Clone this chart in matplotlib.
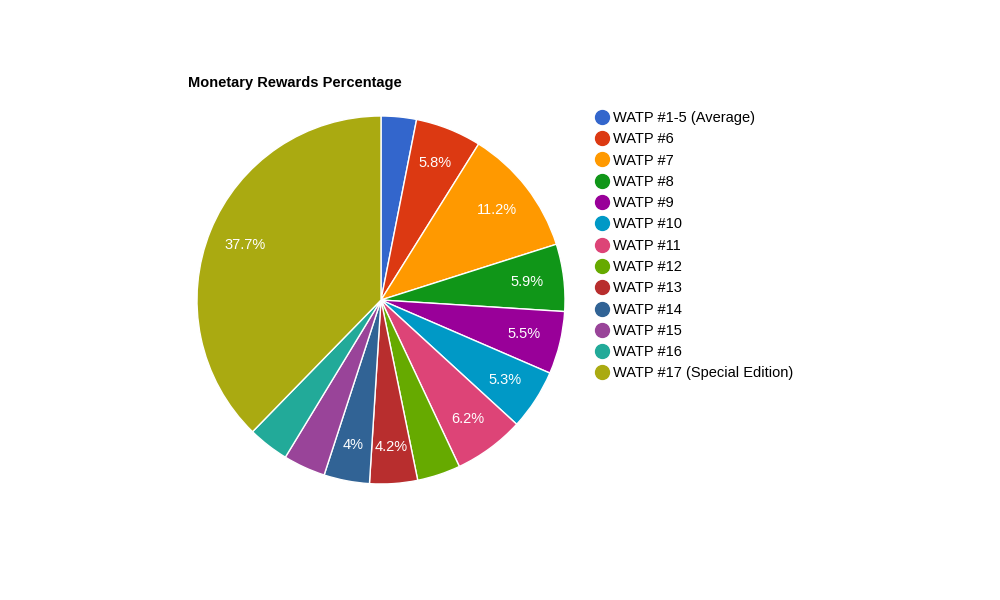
import matplotlib.pyplot as plt
from matplotlib.lines import Line2D

labels = ["WATP #1-5 (Average)", "WATP #6", "WATP #7", "WATP #8", "WATP #9", "WATP #10",
          "WATP #11", "WATP #12", "WATP #13", "WATP #14", "WATP #15", "WATP #16",
          "WATP #17 (Special Edition)"]
values = [3.1, 5.8, 11.2, 5.9, 5.5, 5.3, 6.2, 3.8, 4.2, 4.0, 3.7, 3.6, 37.7]
colors = ["#3366cc", "#dc3912", "#ff9900", "#109618", "#990099", "#0099c6", "#dd4477",
          "#66aa00", "#b82e2e", "#316395", "#994499", "#22aa99", "#aaaa11"]

plt.rcParams["font.family"] = "Liberation Sans"
fig = plt.figure(figsize=(10, 6), dpi=100)
ax = fig.add_axes([(381 - 184) / 1000, (300 - 184) / 600, 368 / 1000, 368 / 600])

def fmt(p):
    if p < 3.95:
        return ""
    s = f"{p:.1f}"
    return s[:-2] + "%" if s.endswith(".0") else s + "%"

wedges, texts, autotexts = ax.pie(values, colors=colors, startangle=90, counterclock=False,
                                  autopct=fmt, pctdistance=0.8,
                                  wedgeprops=dict(edgecolor="white", linewidth=1),
                                  textprops=dict(color="white", fontsize=10.5))
ax.set_xlim(-1, 1)
ax.set_ylim(-1, 1)
ax.set_aspect("equal")

fig.text(0.188, 0.862, "Monetary Rewards Percentage", fontsize=10.5, fontweight="bold", va="center")

handles = [Line2D([], [], marker="o", linestyle="", markersize=10, markerfacecolor=c,
                  markeredgecolor=c) for c in colors]
fig.legend(handles, labels, loc="upper left", bbox_to_anchor=(0.593, 0.815), frameon=False,
           fontsize=10.5, labelspacing=0.5, handletextpad=0.2, handlelength=1.2,
           borderaxespad=0, borderpad=0)

fig.savefig("out.png")
